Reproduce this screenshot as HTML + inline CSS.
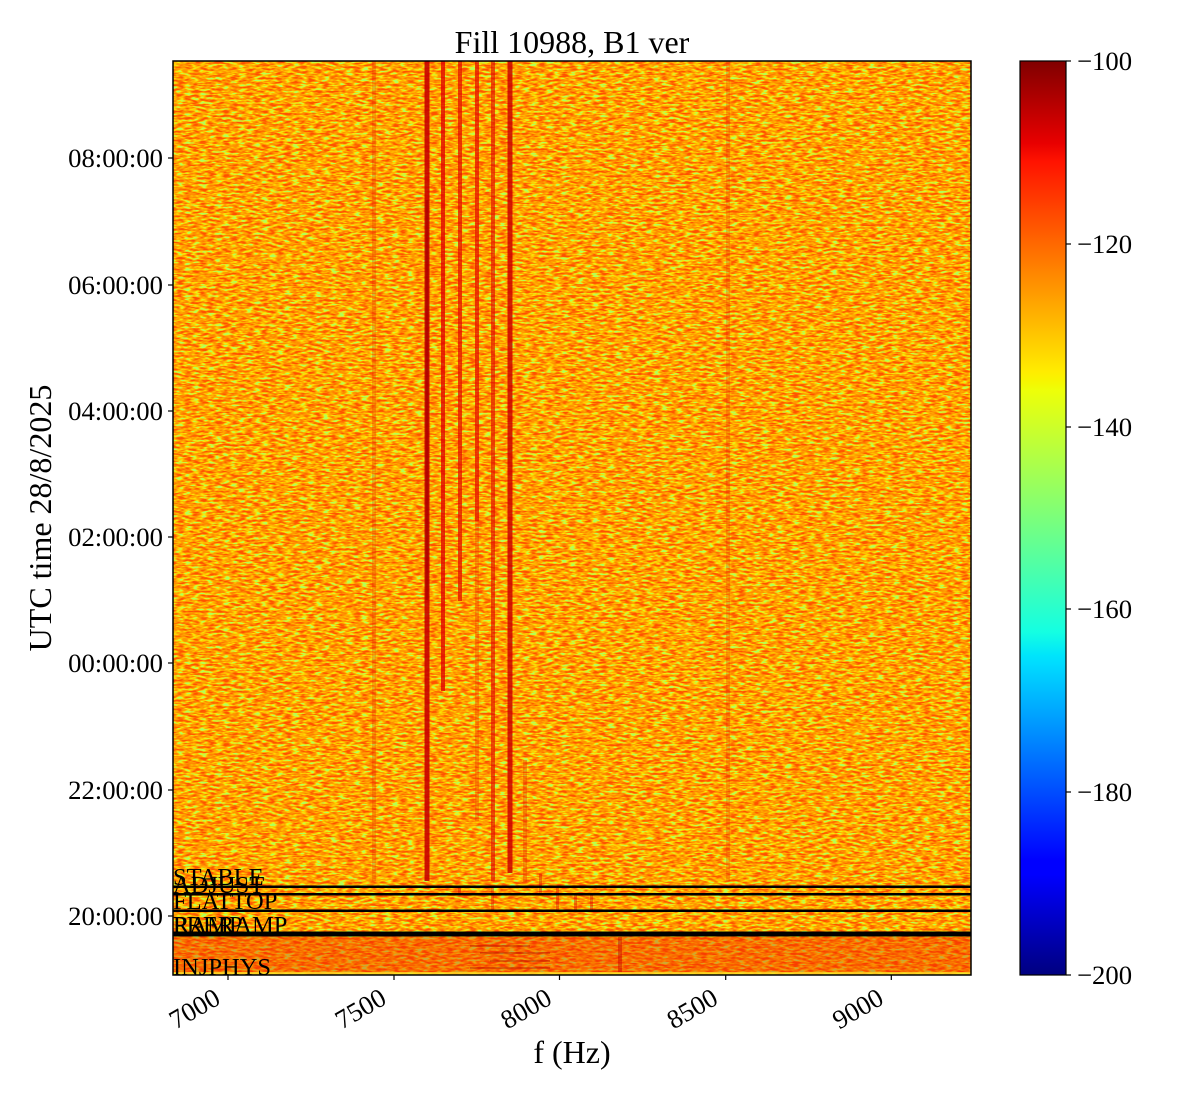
<!DOCTYPE html>
<html>
<head>
<meta charset="utf-8">
<style>
  html, body { margin: 0; padding: 0; background: #ffffff; }
  svg { display: block; }
  text { font-family: "Liberation Serif", "DejaVu Serif", serif; fill: #000; }
</style>
</head>
<body>
<svg width="1200" height="1100" viewBox="0 0 1200 1100" xmlns="http://www.w3.org/2000/svg">
  <defs>
    <filter id="nz" filterUnits="userSpaceOnUse" x="173" y="61" width="798" height="914" color-interpolation-filters="sRGB">
      <feTurbulence type="fractalNoise" baseFrequency="0.13 0.45" numOctaves="2" seed="7"/>
      <feColorMatrix type="matrix" values="1 0 0 0 0  1 0 0 0 0  1 0 0 0 0  0 0 0 0 1"/>
      <feComponentTransfer>
        <feFuncR type="linear" slope="2.4" intercept="-0.7"/>
        <feFuncG type="linear" slope="2.4" intercept="-0.7"/>
        <feFuncB type="linear" slope="2.4" intercept="-0.7"/>
      </feComponentTransfer>
      <feComponentTransfer>
        <feFuncR type="table" tableValues="1 1 1 1 1 1 1 1 1 0.92 0.7"/>
        <feFuncG type="table" tableValues="0.32 0.36 0.44 0.52 0.57 0.62 0.7 0.78 0.86 0.95 1"/>
        <feFuncB type="table" tableValues="0 0 0 0 0 0 0 0 0 0.1 0.35"/>
        <feFuncA type="table" tableValues="1 1"/>
      </feComponentTransfer>
    </filter>
    <linearGradient id="jet" x1="0" y1="1" x2="0" y2="0">
      <stop offset="0" stop-color="rgb(0,0,128)"/>
      <stop offset="0.11" stop-color="rgb(0,0,255)"/>
      <stop offset="0.125" stop-color="rgb(0,0,255)"/>
      <stop offset="0.34" stop-color="rgb(0,219,255)"/>
      <stop offset="0.35" stop-color="rgb(0,229,251)"/>
      <stop offset="0.375" stop-color="rgb(20,255,226)"/>
      <stop offset="0.64" stop-color="rgb(238,255,8)"/>
      <stop offset="0.65" stop-color="rgb(247,245,0)"/>
      <stop offset="0.66" stop-color="rgb(255,236,0)"/>
      <stop offset="0.89" stop-color="rgb(255,19,0)"/>
      <stop offset="0.91" stop-color="rgb(232,0,0)"/>
      <stop offset="1" stop-color="rgb(128,0,0)"/>
    </linearGradient>
  </defs>

  <!-- spectrogram background -->
  <rect x="173" y="61" width="798" height="914" fill="#f79a08"/>
  <rect x="173" y="61" width="798" height="914" filter="url(#nz)"/>

  <!-- redder bottom region (INJPHYS) -->
  <rect x="173" y="937" width="798" height="36" fill="rgb(240,30,0)" opacity="0.38"/>
  <g fill="rgb(170,0,0)" opacity="0.35">
    <rect x="470" y="945" width="60" height="2"/>
    <rect x="480" y="952" width="70" height="2"/>
    <rect x="490" y="960" width="60" height="2"/>
    <rect x="470" y="967" width="80" height="2"/>
  </g>
  <rect x="618" y="937" width="4" height="36" fill="rgb(200,0,0)" opacity="0.45"/>
  <rect x="173" y="972" width="798" height="3" fill="rgb(250,220,40)" opacity="0.8"/>

  <!-- vertical spectral lines -->
  <g>
    <rect x="372" y="61" width="4" height="820" fill="rgb(230,40,0)" opacity="0.3"/>
    <rect x="726" y="61" width="4" height="820" fill="rgb(230,40,0)" opacity="0.28"/>
    <rect x="424.5" y="61" width="5" height="820" fill="rgb(200,0,0)" opacity="0.9"/>
    <rect x="425.5" y="200" width="3" height="400" fill="rgb(160,0,0)" opacity="0.6"/>
    <rect x="441" y="61" width="4" height="630" fill="rgb(225,5,0)" opacity="0.8"/>
    <rect x="458" y="61" width="4" height="540" fill="rgb(228,15,0)" opacity="0.75"/>
    <rect x="475" y="61" width="4" height="460" fill="rgb(228,15,0)" opacity="0.75"/>
    <rect x="475" y="521" width="4" height="300" fill="rgb(235,40,0)" opacity="0.35"/>
    <rect x="491" y="61" width="4" height="820" fill="rgb(225,10,0)" opacity="0.65"/>
    <rect x="507.5" y="61" width="5" height="812" fill="rgb(205,0,0)" opacity="0.85"/>
    <rect x="523" y="760" width="4" height="122" fill="rgb(230,30,0)" opacity="0.35"/>
    <!-- short segments between state lines -->
    <rect x="458" y="886" width="3" height="8" fill="rgb(220,10,0)" opacity="0.5"/>
    <rect x="539" y="874" width="3" height="20" fill="rgb(220,10,0)" opacity="0.45"/>
    <rect x="556" y="886" width="3" height="24" fill="rgb(220,10,0)" opacity="0.45"/>
    <rect x="574" y="895" width="3" height="15" fill="rgb(220,10,0)" opacity="0.45"/>
    <rect x="590" y="895" width="3" height="15" fill="rgb(220,10,0)" opacity="0.45"/>
    <rect x="491" y="886" width="3" height="24" fill="rgb(220,10,0)" opacity="0.4"/>
  </g>

  <!-- state lines -->
  <rect x="173" y="885.5" width="798" height="2.5" fill="#000"/>
  <rect x="173" y="893" width="798" height="2.5" fill="#000"/>
  <rect x="173" y="909.5" width="798" height="2.5" fill="#000"/>
  <rect x="173" y="931.5" width="798" height="5" fill="#000"/>

  <!-- state labels -->
  <g font-size="24.5">
    <text x="173" y="885">STABLE</text>
    <text x="173" y="893">ADJUST</text>
    <text x="173" y="909">FLATTOP</text>
    <text x="173" y="933">PRERAMP</text>
    <text x="173" y="933">RAMP</text>
    <text x="173" y="975">INJPHYS</text>
  </g>

  <!-- plot frame -->
  <rect x="173" y="61" width="798" height="914" fill="none" stroke="#000" stroke-width="1.5"/>

  <!-- y ticks -->
  <g stroke="#000" stroke-width="1.2">
    <line x1="168" y1="158" x2="173" y2="158"/>
    <line x1="168" y1="285" x2="173" y2="285"/>
    <line x1="168" y1="411" x2="173" y2="411"/>
    <line x1="168" y1="537" x2="173" y2="537"/>
    <line x1="168" y1="663" x2="173" y2="663"/>
    <line x1="168" y1="790" x2="173" y2="790"/>
    <line x1="168" y1="916" x2="173" y2="916"/>
  </g>
  <g font-size="26.7" text-anchor="end">
    <text x="163" y="167">08:00:00</text>
    <text x="163" y="294">06:00:00</text>
    <text x="163" y="420">04:00:00</text>
    <text x="163" y="546">02:00:00</text>
    <text x="163" y="672">00:00:00</text>
    <text x="163" y="799">22:00:00</text>
    <text x="163" y="925">20:00:00</text>
  </g>

  <!-- x ticks -->
  <g stroke="#000" stroke-width="1.2">
    <line x1="228" y1="975" x2="228" y2="980"/>
    <line x1="394" y1="975" x2="394" y2="980"/>
    <line x1="559.5" y1="975" x2="559.5" y2="980"/>
    <line x1="725.7" y1="975" x2="725.7" y2="980"/>
    <line x1="891.3" y1="975" x2="891.3" y2="980"/>
  </g>
  <g font-size="26.7" text-anchor="end">
    <text transform="translate(222,1003) rotate(-30)">7000</text>
    <text transform="translate(388,1003) rotate(-30)">7500</text>
    <text transform="translate(553.5,1003) rotate(-30)">8000</text>
    <text transform="translate(719.7,1003) rotate(-30)">8500</text>
    <text transform="translate(885.3,1003) rotate(-30)">9000</text>
  </g>

  <!-- axis labels & title -->
  <text x="572" y="1063" font-size="32" text-anchor="middle">f (Hz)</text>
  <text transform="translate(51,518) rotate(-90)" font-size="32" text-anchor="middle">UTC time 28/8/2025</text>
  <text x="572" y="53" font-size="32" text-anchor="middle">Fill 10988, B1 ver</text>

  <!-- colorbar -->
  <rect x="1020" y="61" width="46" height="914" fill="url(#jet)" stroke="#000" stroke-width="1.2"/>
  <g stroke="#000" stroke-width="1.2">
    <line x1="1066" y1="61" x2="1071" y2="61"/>
    <line x1="1066" y1="244" x2="1071" y2="244"/>
    <line x1="1066" y1="427" x2="1071" y2="427"/>
    <line x1="1066" y1="609" x2="1071" y2="609"/>
    <line x1="1066" y1="792" x2="1071" y2="792"/>
    <line x1="1066" y1="975" x2="1071" y2="975"/>
  </g>
  <g font-size="26.7">
    <text x="1077" y="70">−100</text>
    <text x="1077" y="253">−120</text>
    <text x="1077" y="436">−140</text>
    <text x="1077" y="618">−160</text>
    <text x="1077" y="801">−180</text>
    <text x="1077" y="984">−200</text>
  </g>
</svg>
</body>
</html>
